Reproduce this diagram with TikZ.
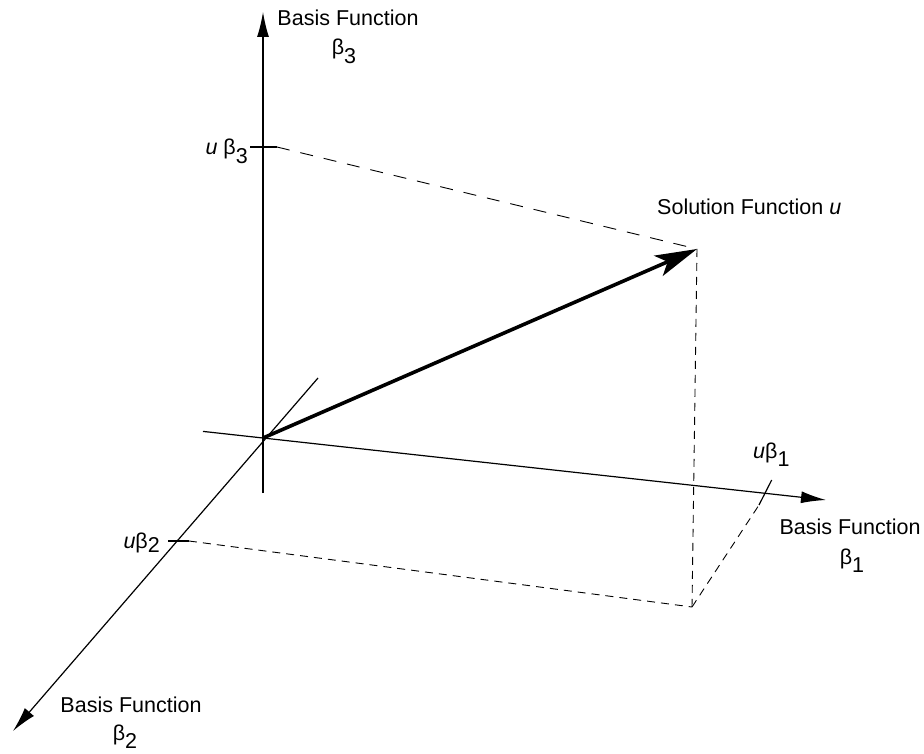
\documentclass[tikz,border=0pt]{standalone}
\usepackage{fontspec}
\setmainfont{Liberation Sans}
\usetikzlibrary{arrows.meta}
\newcommand\lowsub[1]{\raisebox{-0.4em}{#1}}
\begin{document}
\begin{tikzpicture}[x=1pt,y=-1pt,
  axis/.style={line width=1.2pt},
  axarrow/.style={axis,-{Latex[length=25pt,width=12pt]}},
  soln/.style={line width=3.6pt,-{Stealth[length=42pt,width=22pt,inset=10pt]}},
  proj/.style={line width=0.9pt,dash pattern=on 13pt off 11pt},
  projb/.style={line width=0.9pt,dash pattern=on 8pt off 6pt},
  tick/.style={line width=1.2pt},
  lbl/.style={inner sep=0pt,font=\fontsize{21.5}{26}\selectfont}]
\useasboundingbox (0,0) rectangle (924,754);
% key points
\coordinate (O) at (263,438);
\coordinate (z0) at (263,493);
\coordinate (z1) at (263,12);
\coordinate (x0) at (203,431.4);
\coordinate (x1) at (826,500);
\coordinate (y0) at (318,378);
\coordinate (y1) at (13,731);
\coordinate (P) at (697,249);
\coordinate (Q) at (692,607);
% ticks
\coordinate (t3a) at (250,147);
\coordinate (t3b) at (277,147);
\coordinate (t2a) at (168,541);
\coordinate (t2b) at (189,541);
\coordinate (t1a) at (759,505);
\coordinate (t1b) at (771.7,480);
% axes
\draw[axarrow] (z0) -- (z1);
\draw[axarrow] (x0) -- (x1);
\draw[axarrow] (y0) -- (y1);
% ticks
\draw[tick] (t3a) -- (t3b);
\draw[tick] (t2a) -- (t2b);
\draw[tick] (t1a) -- (t1b);
% projections
\draw[proj] (t3b) -- (P);
\draw[projb] (P) -- (Q);
\draw[projb] (t2b) -- (Q);
\draw[projb] (Q) -- (t1a);
% solution vector
\draw[soln] (O) -- (P);
% labels
\node[lbl,anchor=base] (l3a) at (348,26) {Basis Function};
\node[lbl,anchor=base] (l3b) at (344,55) {β\lowsub{3}};
\node[lbl,anchor=base west] (ls) at (657,215) {Solution Function \textit{u}};
\node[lbl,anchor=base] (l1a) at (850,534) {Basis Function};
\node[lbl,anchor=base] (l1b) at (852,564) {β\lowsub{1}};
\node[lbl,anchor=base] (l2a) at (131,712) {Basis Function};
\node[lbl,anchor=base] (l2b) at (125,740) {β\lowsub{2}};
\node[lbl,anchor=base east] (u3) at (248,155) {\textit{u} β\lowsub{3}};
\node[lbl,anchor=base east] (u2) at (160,548) {\textit{u}β\raisebox{-0.2em}{2}};
\node[lbl,anchor=base west] (u1) at (753,458) {\textit{u}β\lowsub{1}};
\end{tikzpicture}
\end{document}
